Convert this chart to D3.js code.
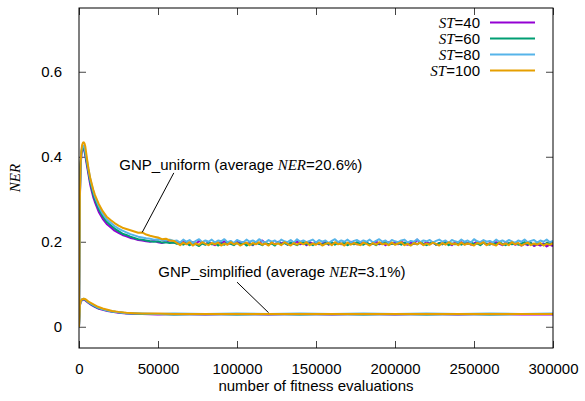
<!DOCTYPE html>
<html>
<head>
<meta charset="utf-8">
<script src="https://cdn.jsdelivr.net/npm/d3@7"></script>
<style>
  body { margin: 0; background: #fff; }
  svg { display: block; }
  text { font-family: "Liberation Sans", Arial, sans-serif; fill: #000; }
  .it { font-family: "Liberation Serif", "Times New Roman", serif; font-style: italic; }
</style>
</head>
<body>
<div id="chart"></div>
<script>
/*
 data
 upper group = GNP_uniform, lower group = GNP_simplified
*/
var series_names = ["40", "60", "80", "100"];
var series_colors = ["#9400d3", "#009e73", "#56b4e9", "#e69f00"];

var x_ticks = [0, 50000, 100000, 150000, 200000, 250000, 300000];
var y_ticks = [0, 0.2, 0.4, 0.6];

// x positions for the uniform runs
var uniform_x = [0, 500, 1000, 1500, 2000, 2500, 3000, 3500, 4000, 5000, 6000, 7000, 8000, 9000, 10000,
	12500, 15000, 17500, 20000, 22500, 25000, 27500, 30000, 32500, 35000, 37500, 40000, 42500, 45000,
	47500, 50000, 52500, 55000, 57500, 60000,
	62000, 64000, 66000, 68000, 70000, 72000, 74000, 76000, 78000, 80000,
	82000, 84000, 86000, 88000, 90000, 92000, 94000, 96000, 98000, 100000,
	102000, 104000, 106000, 108000, 110000, 112000, 114000, 116000, 118000, 120000,
	122000, 124000, 126000, 128000, 130000, 132000, 134000, 136000, 138000, 140000,
	142000, 144000, 146000, 148000, 150000, 152000, 154000, 156000, 158000, 160000,
	162000, 164000, 166000, 168000, 170000, 172000, 174000, 176000, 178000, 180000,
	182000, 184000, 186000, 188000, 190000, 192000, 194000, 196000, 198000, 200000,
	202000, 204000, 206000, 208000, 210000, 212000, 214000, 216000, 218000, 220000,
	222000, 224000, 226000, 228000, 230000, 232000, 234000, 236000, 238000, 240000,
	242000, 244000, 246000, 248000, 250000, 252000, 254000, 256000, 258000, 260000,
	262000, 264000, 266000, 268000, 270000, 272000, 274000, 276000, 278000, 280000,
	282000, 284000, 286000, 288000, 290000, 292000, 294000, 296000, 298000, 300000];

var uniform_st40 = [0, 0.29, 0.375, 0.405, 0.416, 0.419, 0.418, 0.412, 0.402, 0.38, 0.358, 0.336, 0.32, 0.305, 0.294,
	0.27, 0.254, 0.242, 0.234, 0.226, 0.221, 0.216, 0.213, 0.209, 0.207, 0.204, 0.203, 0.201, 0.2,
	0.202, 0.199, 0.197, 0.2, 0.198, 0.199,
	0.198, 0.194, 0.2, 0.196, 0.193, 0.199, 0.195, 0.202, 0.197, 0.194,
	0.199, 0.195, 0.192, 0.198, 0.196, 0.201, 0.194, 0.197, 0.193, 0.2,
	0.196, 0.199, 0.194, 0.197, 0.192, 0.198, 0.195, 0.203, 0.196, 0.193,
	0.198, 0.194, 0.2, 0.196, 0.199, 0.193, 0.197, 0.195, 0.201, 0.194,
	0.197, 0.192, 0.199, 0.195, 0.198, 0.194, 0.196, 0.2, 0.193, 0.198,
	0.195, 0.199, 0.194, 0.197, 0.193, 0.2, 0.196, 0.194, 0.199, 0.195,
	0.198, 0.193, 0.196, 0.201, 0.194, 0.197, 0.192, 0.199, 0.195, 0.198,
	0.194, 0.2, 0.196, 0.193, 0.198, 0.195, 0.205, 0.197, 0.194, 0.199,
	0.195, 0.198, 0.193, 0.197, 0.194, 0.2, 0.196, 0.192, 0.198, 0.195,
	0.199, 0.194, 0.197, 0.193, 0.196, 0.2, 0.195, 0.198, 0.193, 0.197,
	0.194, 0.199, 0.195, 0.192, 0.198, 0.194, 0.197, 0.193, 0.196, 0.191,
	0.195, 0.192, 0.197, 0.19, 0.194, 0.191, 0.196, 0.189, 0.193, 0.19];

var uniform_st60 = [0, 0.295, 0.378, 0.408, 0.419, 0.422, 0.421, 0.415, 0.406, 0.385, 0.364, 0.343, 0.327, 0.312, 0.3,
	0.277, 0.26, 0.247, 0.239, 0.231, 0.225, 0.219, 0.216, 0.212, 0.209, 0.206, 0.205, 0.203, 0.201,
	0.2, 0.201, 0.198, 0.199, 0.197, 0.198,
	0.195, 0.199, 0.193, 0.197, 0.192, 0.198, 0.194, 0.19, 0.196, 0.193,
	0.198, 0.194, 0.197, 0.191, 0.196, 0.193, 0.199, 0.195, 0.192, 0.197,
	0.194, 0.198, 0.191, 0.196, 0.193, 0.199, 0.195, 0.192, 0.198, 0.194,
	0.196, 0.191, 0.199, 0.194, 0.197, 0.193, 0.198, 0.195, 0.192, 0.197,
	0.199, 0.194, 0.196, 0.192, 0.198, 0.195, 0.193, 0.197, 0.194, 0.199,
	0.193, 0.197, 0.195, 0.198, 0.192, 0.196, 0.194, 0.199, 0.195, 0.193,
	0.198, 0.194, 0.196, 0.192, 0.197, 0.195, 0.199, 0.193, 0.196, 0.194,
	0.197, 0.193, 0.198, 0.195, 0.192, 0.197, 0.194, 0.199, 0.195, 0.192,
	0.196, 0.199, 0.193, 0.197, 0.194, 0.198, 0.192, 0.196, 0.194, 0.198,
	0.193, 0.197, 0.195, 0.199, 0.194, 0.196, 0.192, 0.198, 0.195, 0.193,
	0.197, 0.194, 0.199, 0.195, 0.192, 0.197, 0.194, 0.198, 0.193, 0.196,
	0.199, 0.194, 0.197, 0.193, 0.198, 0.195, 0.192, 0.197, 0.194, 0.196];

var uniform_st80 = [0, 0.3, 0.382, 0.412, 0.422, 0.426, 0.425, 0.42, 0.412, 0.392, 0.37, 0.35, 0.334, 0.32, 0.307,
	0.284, 0.266, 0.253, 0.245, 0.237, 0.231, 0.226, 0.222, 0.218, 0.215, 0.212, 0.21, 0.208, 0.207,
	0.205, 0.206, 0.204, 0.203, 0.205, 0.202,
	0.203, 0.198, 0.205, 0.2, 0.204, 0.197, 0.202, 0.206, 0.199, 0.203,
	0.2, 0.205, 0.198, 0.203, 0.201, 0.206, 0.199, 0.202, 0.197, 0.204,
	0.201, 0.198, 0.205, 0.2, 0.203, 0.199, 0.206, 0.201, 0.198, 0.204,
	0.2, 0.203, 0.197, 0.205, 0.201, 0.199, 0.204, 0.198, 0.206, 0.2,
	0.203, 0.199, 0.202, 0.205, 0.198, 0.204, 0.2, 0.203, 0.197, 0.202,
	0.206, 0.199, 0.203, 0.2, 0.205, 0.198, 0.202, 0.204, 0.199, 0.203,
	0.2, 0.205, 0.198, 0.202, 0.206, 0.2, 0.203, 0.197, 0.204, 0.201,
	0.199, 0.203, 0.205, 0.198, 0.202, 0.2, 0.206, 0.199, 0.203, 0.201,
	0.204, 0.198, 0.202, 0.205, 0.2, 0.203, 0.197, 0.204, 0.201, 0.199,
	0.205, 0.2, 0.203, 0.198, 0.206, 0.201, 0.199, 0.204, 0.2, 0.202,
	0.198, 0.205, 0.2, 0.203, 0.199, 0.204, 0.201, 0.197, 0.203, 0.2,
	0.205, 0.199, 0.202, 0.204, 0.198, 0.203, 0.2, 0.205, 0.199, 0.202];

var uniform_st100 = [0, 0.3, 0.385, 0.415, 0.428, 0.433, 0.434, 0.431, 0.424, 0.397, 0.372, 0.352, 0.337, 0.323, 0.311,
	0.289, 0.272, 0.259, 0.251, 0.244, 0.238, 0.233, 0.23, 0.227, 0.224, 0.221, 0.222, 0.217, 0.214,
	0.212, 0.21, 0.206, 0.207, 0.203, 0.202,
	0.197, 0.192, 0.198, 0.194, 0.199, 0.191, 0.196, 0.193, 0.199, 0.195,
	0.192, 0.197, 0.194, 0.198, 0.191, 0.196, 0.193, 0.199, 0.194, 0.197,
	0.191, 0.195, 0.198, 0.192, 0.197, 0.194, 0.199, 0.193, 0.196, 0.191,
	0.198, 0.194, 0.196, 0.192, 0.199, 0.195, 0.191, 0.197, 0.193, 0.198,
	0.194, 0.199, 0.192, 0.196, 0.193, 0.198, 0.191, 0.195, 0.197, 0.192,
	0.199, 0.194, 0.196, 0.191, 0.198, 0.193, 0.197, 0.194, 0.192, 0.198,
	0.195, 0.191, 0.197, 0.193, 0.199, 0.194, 0.196, 0.192, 0.198, 0.193,
	0.196, 0.199, 0.192, 0.195, 0.191, 0.197, 0.194, 0.198, 0.192, 0.196,
	0.193, 0.198, 0.195, 0.191, 0.197, 0.193, 0.199, 0.194, 0.196, 0.192,
	0.198, 0.193, 0.196, 0.194, 0.191, 0.197, 0.195, 0.199, 0.192, 0.196,
	0.194, 0.191, 0.198, 0.193, 0.196, 0.192, 0.199, 0.194, 0.197, 0.191,
	0.195, 0.198, 0.192, 0.196, 0.193, 0.197, 0.191, 0.195, 0.193, 0.196];

// x positions for the simplified runs
var simplified_x = [0, 500, 1000, 2000, 3000, 4000, 5000, 6000, 8000, 10000, 12000, 15000, 18000, 21000,
	25000, 30000, 35000, 40000, 50000, 60000, 80000, 100000, 120000, 140000, 160000, 180000,
	200000, 220000, 240000, 260000, 280000, 300000];

var simplified_st40 = [0, 0.048, 0.058, 0.063, 0.064, 0.062, 0.059, 0.056, 0.051, 0.047, 0.043, 0.04, 0.037, 0.035,
	0.033, 0.031, 0.03, 0.03, 0.029, 0.03, 0.029, 0.03, 0.029, 0.03, 0.029, 0.03,
	0.029, 0.03, 0.029, 0.03, 0.029, 0.029];
var simplified_st60 = [0, 0.049, 0.059, 0.064, 0.065, 0.063, 0.06, 0.057, 0.052, 0.048, 0.044, 0.041, 0.038, 0.036,
	0.034, 0.032, 0.031, 0.03, 0.03, 0.029, 0.03, 0.029, 0.03, 0.029, 0.03, 0.029,
	0.03, 0.029, 0.03, 0.029, 0.03, 0.03];
var simplified_st80 = [0, 0.049, 0.06, 0.065, 0.066, 0.064, 0.061, 0.058, 0.053, 0.049, 0.045, 0.041, 0.038, 0.036,
	0.034, 0.032, 0.031, 0.031, 0.03, 0.031, 0.03, 0.031, 0.03, 0.031, 0.03, 0.031,
	0.03, 0.031, 0.03, 0.031, 0.03, 0.031];
var simplified_st100 = [0, 0.05, 0.06, 0.065, 0.066, 0.065, 0.062, 0.059, 0.055, 0.051, 0.047, 0.043, 0.04, 0.037,
	0.035, 0.033, 0.032, 0.031, 0.031, 0.03, 0.03, 0.03, 0.03, 0.03, 0.03, 0.03,
	0.03, 0.03, 0.03, 0.03, 0.03, 0.03];

var uniform_values = [uniform_st40, uniform_st60, uniform_st80, uniform_st100];
var simplified_values = [simplified_st40, simplified_st60, simplified_st80, simplified_st100];

/*
 layout
*/
var width = 585, height = 401;
var margin = {top: 8, right: 32, bottom: 53, left: 79};
var inner_w = width - margin.left - margin.right;
var inner_h = height - margin.top - margin.bottom;
var tick_len = 7;

var x_scale = d3.scaleLinear().domain([0, 300000]).range([0, inner_w]);
var y_scale = d3.scaleLinear().domain([-0.05, 0.75]).range([inner_h, 0]);

var svg = d3.select("#chart").append("svg")
	.attr("width", width)
	.attr("height", height);

svg.append("defs").append("clipPath").attr("id", "plot_clip")
	.append("rect")
	.attr("width", inner_w)
	.attr("height", inner_h);

var g = svg.append("g")
	.attr("transform", "translate(" + margin.left + "," + margin.top + ")");

/*
 axes: ticks point inwards and are mirrored on top / right (gnuplot style)
*/
var x_axis = d3.axisBottom(x_scale).tickValues(x_ticks).tickSize(-tick_len).tickPadding(15).tickFormat(d3.format("d"));
var y_axis = d3.axisLeft(y_scale).tickValues(y_ticks).tickSize(-tick_len).tickPadding(17)
	.tickFormat(function(d) { return d === 0 ? "0" : d3.format(".1f")(d); });

g.append("g").attr("class", "x_axis")
	.attr("transform", "translate(0," + inner_h + ")")
	.call(x_axis);
g.append("g").attr("class", "y_axis")
	.call(y_axis);
g.append("g").attr("class", "x_axis_top")
	.call(d3.axisTop(x_scale).tickValues(x_ticks).tickSize(-tick_len).tickFormat(""));
g.append("g").attr("class", "y_axis_right")
	.attr("transform", "translate(" + inner_w + ",0)")
	.call(d3.axisRight(y_scale).tickValues(y_ticks).tickSize(-tick_len).tickFormat(""));

g.selectAll(".domain").remove();
g.selectAll(".tick line").attr("stroke", "#444").attr("stroke-width", 1);
g.selectAll(".tick text").attr("font-size", "15px").attr("font-family", "Liberation Sans, Arial, sans-serif");

/*
 the lines
*/
var line_gen = function(xs) {
	return d3.line()
		.x(function(d, i) { return x_scale(xs[i]); })
		.y(function(d) { return y_scale(d); });
};

var lines_g = g.append("g").attr("clip-path", "url(#plot_clip)");
for (var i = 0; i < series_names.length; i++) {
	lines_g.append("path")
		.datum(uniform_values[i])
		.attr("fill", "none")
		.attr("stroke", series_colors[i])
		.attr("stroke-width", 2)
		.attr("stroke-linejoin", "round")
		.attr("d", line_gen(uniform_x));
	lines_g.append("path")
		.datum(simplified_values[i])
		.attr("fill", "none")
		.attr("stroke", series_colors[i])
		.attr("stroke-width", 2)
		.attr("stroke-linejoin", "round")
		.attr("d", line_gen(simplified_x));
}

// frame
g.append("rect")
	.attr("width", inner_w)
	.attr("height", inner_h)
	.attr("fill", "none")
	.attr("stroke", "#000")
	.attr("stroke-width", 1);

/*
 annotations with pointer lines
*/
var notes = [
	{name: "GNP_uniform", avg: "20.6%", tx: 25500, ty: 0.369, from: [60000, 0.362], to: [40000, 0.222]},
	{name: "GNP_simplified", avg: "3.1%", tx: 50200, ty: 0.117, from: [100000, 0.105], to: [120000, 0.033]}
];
notes.forEach(function(n) {
	g.append("line")
		.attr("x1", x_scale(n.from[0])).attr("y1", y_scale(n.from[1]))
		.attr("x2", x_scale(n.to[0])).attr("y2", y_scale(n.to[1]))
		.attr("stroke", "#000").attr("stroke-width", 1);
	var t = g.append("text")
		.attr("x", x_scale(n.tx))
		.attr("y", y_scale(n.ty))
		.attr("font-size", "15px");
	t.append("tspan").text(n.name + " (average ");
	t.append("tspan").attr("class", "it").text("NER");
	t.append("tspan").text("=" + n.avg + ")");
});

/*
 legend, top right
*/
var legend = g.append("g").attr("transform", "translate(" + (480 - margin.left) + "," + (22.5 - margin.top) + ")");
series_names.forEach(function(name, i) {
	var row = legend.append("g").attr("transform", "translate(0," + (i * 16) + ")");
	var t = row.append("text")
		.attr("text-anchor", "end")
		.attr("dy", "0.35em")
		.attr("font-size", "15px");
	t.append("tspan").attr("class", "it").text("ST");
	t.append("tspan").text("=" + name);
	row.append("line")
		.attr("x1", 10).attr("x2", 55)
		.attr("stroke", series_colors[i])
		.attr("stroke-width", 2);
});

// axis titles
svg.append("text")
	.attr("x", margin.left + inner_w / 2)
	.attr("y", 391)
	.attr("text-anchor", "middle")
	.attr("font-size", "15px")
	.text("number of fitness evaluations");

svg.append("text")
	.attr("class", "it")
	.attr("transform", "translate(20," + 178 + ") rotate(-90)")
	.attr("text-anchor", "middle")
	.attr("font-size", "15px")
	.text("NER");
</script>
</body>
</html>
